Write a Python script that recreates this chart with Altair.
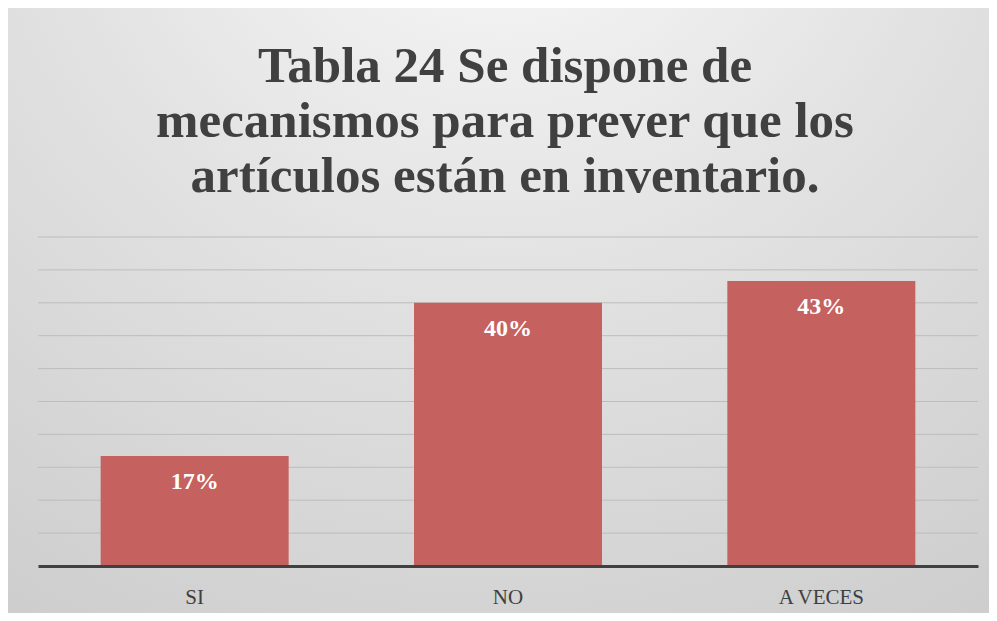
import altair as alt
import pandas as pd

categories = ["SI", "NO", "A VECES"]
values = [16.7, 40.0, 43.3]
pct_labels = ["17%", "40%", "43%"]
grid_values = [5, 10, 15, 20, 25, 30, 35, 40, 45, 50]
title_lines = ["Tabla 24 Se dispone de", "mecanismos para prever que los",
               "artículos están en inventario."]

df = pd.DataFrame({"cat": categories, "val": values, "lab": pct_labels})
grid_df = pd.DataFrame({"g": grid_values})

W, H = 940, 329
PL, PT, PR, PB = 30, 229, 11, 47

yscale = alt.Scale(domain=[0, 50], nice=False, zero=True)
xscale = alt.Scale(paddingInner=0.4, paddingOuter=0.2)

bg = alt.Chart(alt.Data(values=[{}])).mark_rect(
    color=alt.RadialGradient(
        gradient="radial", x1=0.5, y1=0.0, r1=0.0, x2=0.5, y2=0.0, r2=1.05,
        stops=[alt.GradientStop(offset=0, color="#fbfbfb"),
               alt.GradientStop(offset=0.45, color="#e2e2e2"),
               alt.GradientStop(offset=1, color="#c9c9c9")]
    )
).encode(
    x=alt.value(-PL), x2=alt.value(W + PR),
    y=alt.value(-PT), y2=alt.value(H + PB)
)

title = alt.Chart(alt.Data(values=[{}])).mark_text(
    font="Liberation Serif", fontSize=51, fontWeight="bold", color="#404040",
    align="center", baseline="alphabetic", lineBreak="\n", lineHeight=55
).encode(
    x=alt.value(W / 2 - 3), y=alt.value(-155),
    text=alt.value("\n".join(title_lines))
)

grid = alt.Chart(grid_df).mark_rule(color="#bdbdbd", strokeWidth=1).encode(
    y=alt.Y("g:Q", scale=yscale, axis=None)
)

bars = alt.Chart(df).mark_bar(color="#c5615e").encode(
    x=alt.X("cat:N", sort=categories, scale=xscale, title=None,
            axis=alt.Axis(labelAngle=0, labelFont="Liberation Serif", labelFontSize=21,
                          labelColor="#404040", labelPadding=20, ticks=False,
                          domain=True, domainColor="#404040", domainWidth=3,
                          grid=False, zindex=1)),
    y=alt.Y("val:Q", scale=yscale, axis=None)
)

text = alt.Chart(df).mark_text(
    font="Liberation Serif", fontSize=24, fontWeight="bold", color="white",
    baseline="middle", dy=26
).encode(
    x=alt.X("cat:N", sort=categories, scale=xscale),
    y=alt.Y("val:Q", scale=yscale),
    text="lab:N"
)

chart = alt.layer(bg, title, grid, bars, text).properties(
    width=W, height=H,
    autosize=alt.AutoSizeParams(type="none"),
    padding={"left": PL, "top": PT, "right": PR, "bottom": PB}
).configure_view(stroke=None).configure(background="#d8d8d8")

chart.save("out.html", embed_options={"renderer": "svg", "actions": False})
